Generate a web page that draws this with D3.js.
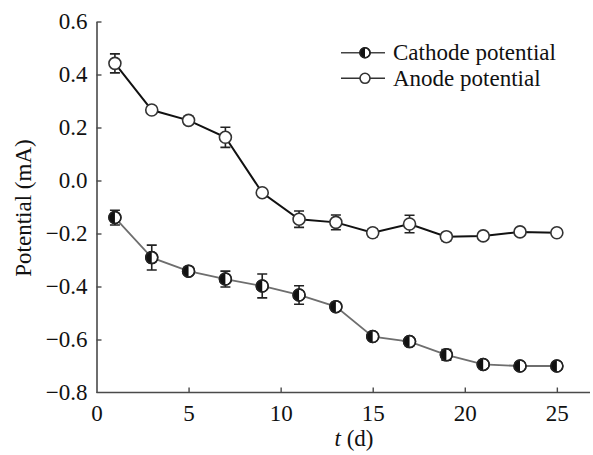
<!DOCTYPE html>
<html>
<head>
<meta charset="utf-8">
<script src="https://cdn.jsdelivr.net/npm/d3@7"></script>
<style>
  html, body { margin: 0; padding: 0; background: #fff; }
  svg { display: block; }
  text { font-family: "Liberation Serif", "DejaVu Serif", "Times New Roman", Times, serif; fill: #111; }
</style>
</head>
<body>
<svg id="chart" width="593" height="455"></svg>
<script>
const days = [1, 3, 5, 7, 9, 11, 13, 15, 17, 19, 21, 23, 25];
const cathode = [-0.140, -0.291, -0.342, -0.372, -0.398, -0.432, -0.476, -0.589, -0.608, -0.658, -0.694, -0.700, -0.700];
const cathodeErr = [0.028, 0.047, 0.010, 0.030, 0.045, 0.035, 0.010, 0.012, 0.012, 0.020, 0.012, 0.010, 0.010];
const anode = [0.442, 0.266, 0.227, 0.163, -0.046, -0.146, -0.158, -0.197, -0.164, -0.212, -0.209, -0.194, -0.197];
const anodeErr = [0.036, 0.010, 0.015, 0.038, 0.010, 0.031, 0.028, 0.015, 0.033, 0.015, 0.012, 0.012, 0.012];
const xTicks = [0, 5, 10, 15, 20, 25];
const yTicks = [0.6, 0.4, 0.2, 0.0, -0.2, -0.4, -0.6, -0.8];
const seriesNames = ["Cathode potential", "Anode potential"];

const FONT = '"Liberation Serif", "DejaVu Serif", "Times New Roman", Times, serif';
const svg = d3.select("#chart");
const x = d3.scaleLinear().domain([0, 26.8]).range([96.5, 590]);
const y = d3.scaleLinear().domain([-0.8, 0.6]).range([392.5, 21.5]);
const axisColor = "#4a4a4a";
const fontSize = 23;

// axes
const xAxis = svg.append("g").attr("transform", `translate(0,${y(-0.8)})`)
  .call(d3.axisBottom(x).tickValues(xTicks).tickSizeInner(-5).tickSizeOuter(0).tickPadding(12).tickFormat(d3.format("d")));
const yAxis = svg.append("g").attr("transform", `translate(${x(0)},0)`)
  .call(d3.axisLeft(y).tickValues(yTicks).tickSizeInner(-5).tickSizeOuter(0).tickPadding(9)
    .tickFormat(d => d3.format(".1f")(d).replace("-", "\u2212")));
[xAxis, yAxis].forEach(g => {
  g.attr("font-family", FONT).attr("font-size", fontSize);
  g.select(".domain").attr("stroke", axisColor).attr("stroke-width", 1.6);
  g.selectAll(".tick line").attr("stroke", axisColor).attr("stroke-width", 1.4);
  g.selectAll(".tick text").attr("fill", "#111").style("font-family", FONT).style("font-size", fontSize + "px");
});
xAxis.selectAll(".tick").filter(d => d === 0).select("line").remove();
yAxis.selectAll(".tick").filter(d => d === -0.8).select("line").remove();
xAxis.select(".domain").attr("d", `M${x(0)},0H${x(26.8)}`);

// axis titles
const xt = svg.append("text").attr("x", 354).attr("y", 446).attr("text-anchor", "middle")
  .style("font-family", FONT).style("font-size", fontSize + "px");
xt.append("tspan").attr("font-style", "italic").text("t");
xt.append("tspan").text(" (d)");
svg.append("text").attr("transform", `translate(31,208) rotate(-90)`).attr("text-anchor", "middle")
  .style("font-family", FONT).style("font-size", fontSize + "px").text("Potential (mA)");

const line = d3.line().x(d => x(d[0])).y(d => y(d[1]));
const R = 6;

function halfMarker(g, cx, cy, r) {
  g.append("circle").attr("cx", cx).attr("cy", cy).attr("r", r).attr("fill", "#fff").attr("stroke", "#222").attr("stroke-width", 1.5);
  g.append("path").attr("d", `M${cx},${cy - r}A${r},${r} 0 0 0 ${cx},${cy + r}Z`).attr("fill", "#111");
  g.append("circle").attr("cx", cx).attr("cy", cy).attr("r", r).attr("fill", "none").attr("stroke", "#222").attr("stroke-width", 1.5);
}
function openMarker(g, cx, cy, r) {
  g.append("circle").attr("cx", cx).attr("cy", cy).attr("r", r).attr("fill", "#fff").attr("stroke", "#333").attr("stroke-width", 1.6);
}
function errBar(g, cx, v, e) {
  const y1 = y(v + e), y2 = y(v - e), w = 5;
  g.append("path").attr("d", `M${cx},${y1}V${y2}M${cx - w},${y1}H${cx + w}M${cx - w},${y2}H${cx + w}`)
    .attr("stroke", "#222").attr("stroke-width", 1.6).attr("fill", "none");
}

const cData = days.map((d, i) => [d, cathode[i]]);
const aData = days.map((d, i) => [d, anode[i]]);
svg.append("path").datum(cData).attr("d", line).attr("fill", "none").attr("stroke", "#6e6e6e").attr("stroke-width", 1.8);
svg.append("path").datum(aData).attr("d", line).attr("fill", "none").attr("stroke", "#111").attr("stroke-width", 2);

const gc = svg.append("g");
days.forEach((d, i) => errBar(gc, x(d), cathode[i], cathodeErr[i]));
days.forEach((d, i) => halfMarker(gc, x(d), y(cathode[i]), R));
const ga = svg.append("g");
days.forEach((d, i) => errBar(ga, x(d), anode[i], anodeErr[i]));
days.forEach((d, i) => openMarker(ga, x(d), y(anode[i]), R));

// legend
const lg = svg.append("g");
const legRows = [52.7, 78.3];
legRows.forEach((ly, i) => {
  lg.append("line").attr("x1", 341).attr("x2", 385).attr("y1", ly).attr("y2", ly)
    .attr("stroke", i === 0 ? "#444" : "#333").attr("stroke-width", 1.6);
  if (i === 0) halfMarker(lg, 365, ly, 5); else openMarker(lg, 365, ly, 5);
  lg.append("text").attr("x", 393).attr("y", ly + 7.5)
    .style("font-family", FONT).style("font-size", fontSize + "px").text(seriesNames[i]);
});
</script>
</body>
</html>
